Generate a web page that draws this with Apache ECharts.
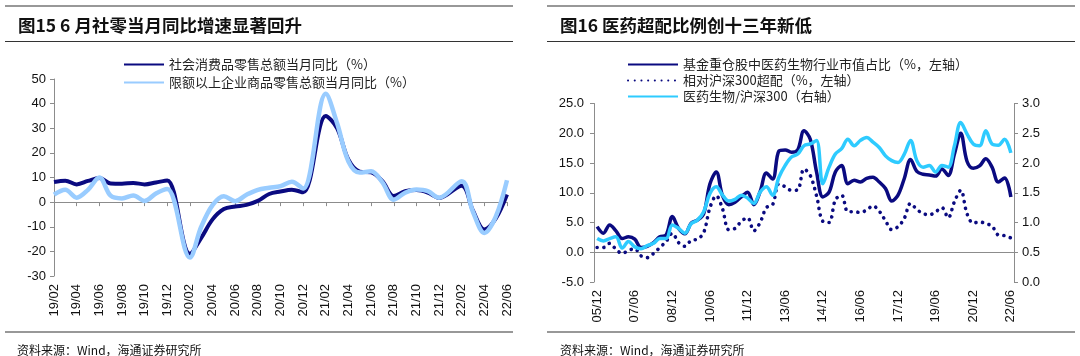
<!DOCTYPE html>
<html><head><meta charset="utf-8">
<script src="https://cdn.jsdelivr.net/npm/echarts@6/dist/echarts.min.js"></script>
<style>html,body{margin:0;padding:0;background:#fff}#c{width:1080px;height:356px}</style>
</head><body><div id="c"></div>
<script>
// ---------- Left chart: retail sales YoY (monthly, Jan data not published) ----------
const retailMonths = ['19/02','19/03','19/04','19/05','19/06','19/07','19/08','19/09','19/10','19/11','19/12',
  '20/01','20/02','20/03','20/04','20/05','20/06','20/07','20/08','20/09','20/10','20/11','20/12',
  '21/01','21/02','21/03','21/04','21/05','21/06','21/07','21/08','21/09','21/10','21/11','21/12',
  '22/01','22/02','22/03','22/04','22/05','22/06'];
const retailTotal = [8.2,8.7,7.2,8.6,9.8,7.6,7.5,7.8,7.2,8.0,8.8,
  null,-21.0,-14.5,-7.0,-2.8,-1.8,-1.1,0.5,3.3,4.3,5.0,4.0,
  null,35.0,30.0,17.2,12.4,12.1,8.5,2.5,4.4,4.9,3.9,1.7,
  null,6.7,-3.5,-11.1,-6.7,3.1];
const retailAboveQuota = [3.0,5.0,1.8,5.0,10.0,2.6,1.5,2.7,0.5,3.5,5.3,
  null,-22.5,-10.0,-1.2,2.4,0.4,3.0,5.0,5.8,6.5,8.3,5.5,
  null,44.0,32.0,16.5,12.0,12.5,8.0,1.0,3.8,5.1,4.5,1.8,
  null,8.5,-4.0,-12.5,-6.0,8.9];
const leftNames = ['社会消费品零售总额当月同比（%）','限额以上企业商品零售总额当月同比（%）'];

// ---------- Right chart: pharma overweight (quarterly) ----------
const quarters = ['05/12',
  '06/03','06/06','06/09','06/12','07/03','07/06','07/09','07/12','08/03','08/06','08/09','08/12',
  '09/03','09/06','09/09','09/12','10/03','10/06','10/09','10/12','11/03','11/06','11/09','11/12',
  '12/03','12/06','12/09','12/12','13/03','13/06','13/09','13/12','14/03','14/06','14/09','14/12',
  '15/03','15/06','15/09','15/12','16/03','16/06','16/09','16/12','17/03','17/06','17/09','17/12',
  '18/03','18/06','18/09','18/12','19/03','19/06','19/09','19/12','20/03','20/06','20/09','20/12',
  '21/03','21/06','21/09','21/12','22/03','22/06'];
const fundPharmaShare = [4.3,3.2,4.6,3.6,2.3,2.6,2.2,0.8,1.0,1.6,2.6,2.9,6.0,4.0,3.1,4.9,5.4,6.5,11.5,13.5,
  9.5,8.0,8.4,9.3,10.1,8.0,10.2,13.3,12.3,17.0,17.2,16.8,17.2,20.4,19.0,13.5,9.3,10.1,13.5,14.6,
  11.5,12.1,11.8,12.4,12.6,11.8,10.7,8.6,9.6,12.4,15.6,13.6,13.1,13.0,12.8,14.0,12.9,16.5,20.0,15.3,
  14.1,14.5,15.7,14.3,11.8,12.5,9.3];
const overweightVsHS300 = [0.8,0.8,1.5,0.5,-0.2,0.3,0.6,-0.6,-0.9,-0.2,0.8,1.8,3.2,1.6,1.0,2.0,2.2,3.3,7.5,9.5,
  7.3,3.8,4.0,5.2,5.8,3.6,5.0,7.5,8.0,11.5,11.0,10.4,10.5,14.0,12.9,9.5,5.2,5.0,8.8,9.6,
  6.8,6.8,6.7,7.1,7.8,6.9,5.3,3.8,4.3,5.7,8.2,7.2,6.5,6.3,6.8,7.5,5.8,8.5,10.4,6.5,
  4.9,5.1,4.8,4.4,2.9,2.8,2.4];
const pharmaToHS300 = [0.73,0.69,0.73,0.76,0.57,0.68,0.59,0.56,0.61,0.65,0.73,0.73,0.96,0.90,0.82,0.98,1.04,1.18,1.49,1.60,
  1.46,1.36,1.39,1.46,1.41,1.32,1.51,1.60,1.46,1.76,1.96,2.10,2.15,2.29,2.32,2.38,1.65,1.93,2.15,2.24,
  2.40,2.29,2.38,2.43,2.35,2.26,2.12,2.04,2.01,2.15,2.38,2.04,1.93,1.96,1.85,1.96,1.93,2.29,2.68,2.49,
  2.32,2.29,2.54,2.32,2.30,2.40,2.17];
const rightNames = ['基金重仓股中医药生物行业市值占比（%，左轴）','相对沪深300超配（%，左轴）','医药生物/沪深300（右轴）'];

const leftTitle = '图15 6 月社零当月同比增速显著回升';
const rightTitle = '图16 医药超配比例创十三年新低';
const sourceText = '资料来源：Wind，海通证券研究所';

const NAVY = '#0a0a80', LIGHT = '#99ccff', CYAN = '#2ecbff', AXIS = '#8c8c8c', TXT = '#111';
const NUMFONT = 'Liberation Sans, Arial, sans-serif';
const CJK = 'Noto Sans CJK SC';

const chart = echarts.init(document.getElementById('c'), null, {renderer: 'canvas'});

function hline(x1, x2, y, w) {
  return {type: 'line', shape: {x1: x1, y1: y, x2: x2, y2: y}, style: {stroke: '#333', lineWidth: w || 1.2}, silent: true};
}
function txt(x, y, s, size, weight) {
  return {type: 'text', x: x, y: y, style: {text: s, font: (weight || 'normal') + ' ' + size + 'px "' + CJK + '"', fill: TXT, textVerticalAlign: 'middle'}, silent: true};
}

const option = {
  animation: false,
  backgroundColor: '#fff',
  graphic: [
    hline(5, 513, 6), hline(5, 513, 41.5), hline(5, 513, 332),
    hline(547, 1075, 6), hline(547, 1075, 41.5), hline(547, 1075, 332),
    txt(18, 25, leftTitle, 17.5, 'bold'),
    txt(560, 25, rightTitle, 17.5, 'bold'),
    txt(17, 350, sourceText, 12),
    txt(560, 350, sourceText, 12)
  ],
  legend: [
    {
      data: leftNames, orient: 'vertical', left: 118, top: 53, itemWidth: 40, itemHeight: 14, itemGap: 5,
      itemStyle: {opacity: 0},
      textStyle: {fontFamily: CJK, fontSize: 13, color: '#222'}
    },
    {
      data: rightNames, orient: 'vertical', left: 622, top: 53, itemWidth: 50, itemHeight: 12, itemGap: 3,
      itemStyle: {opacity: 0},
      textStyle: {fontFamily: CJK, fontSize: 13, color: '#222'}
    }
  ],
  grid: [
    {left: 54, right: 573, top: 79, bottom: 80},
    {left: 594, right: 66, top: 103.5, bottom: 74}
  ],
  xAxis: [
    {type: 'category', gridIndex: 0, data: retailMonths, boundaryGap: false,
     axisLine: {onZero: true, lineStyle: {color: AXIS, width: 1}},
     axisTick: {interval: 1, length: 4, lineStyle: {color: AXIS}},
     axisLabel: {show: false}, splitLine: {show: false}},
    {type: 'category', gridIndex: 0, data: retailMonths, boundaryGap: false, position: 'bottom',
     axisLine: {show: false, onZero: false}, axisTick: {show: false},
     axisLabel: {interval: 1, rotate: 90, margin: 8, fontSize: 13, fontFamily: NUMFONT, color: TXT},
     splitLine: {show: false}},
    {type: 'category', gridIndex: 1, data: quarters, boundaryGap: true,
     axisLine: {onZero: true, onZeroAxisIndex: 1, lineStyle: {color: AXIS, width: 1}},
     axisTick: {interval: 5, alignWithLabel: true, length: 4, lineStyle: {color: AXIS}},
     axisLabel: {show: false, interval: 5}, splitLine: {show: false}},
    {type: 'category', gridIndex: 1, data: quarters, boundaryGap: true, position: 'bottom',
     axisLine: {show: false, onZero: false}, axisTick: {show: false},
     axisLabel: {interval: 5, rotate: 90, margin: 8, fontSize: 13, fontFamily: NUMFONT, color: TXT},
     splitLine: {show: false}}
  ],
  yAxis: [
    {type: 'value', gridIndex: 0, min: -30, max: 50, interval: 10,
     axisLine: {show: true, lineStyle: {color: AXIS}}, axisTick: {show: true, length: 4, lineStyle: {color: AXIS}},
     axisLabel: {margin: 8, fontSize: 13, fontFamily: NUMFONT, color: TXT}, splitLine: {show: false}},
    {type: 'value', gridIndex: 1, min: -5, max: 25, interval: 5, position: 'left',
     axisLine: {show: true, lineStyle: {color: AXIS}}, axisTick: {show: true, length: 4, lineStyle: {color: AXIS}},
     axisLabel: {margin: 10, fontSize: 13, fontFamily: NUMFONT, color: TXT, formatter: v => v.toFixed(1)}, splitLine: {show: false}},
    {type: 'value', gridIndex: 1, min: 0, max: 3, interval: 0.5, position: 'right',
     axisLine: {show: true, lineStyle: {color: AXIS}}, axisTick: {show: true, length: 4, lineStyle: {color: AXIS}},
     axisLabel: {margin: 8, fontSize: 13, fontFamily: NUMFONT, color: TXT, formatter: v => v.toFixed(1)}, splitLine: {show: false}}
  ],
  series: [
    {name: leftNames[0], type: 'line', xAxisIndex: 0, yAxisIndex: 0, data: retailTotal, connectNulls: true,
     symbol: 'none', smooth: 0.35, lineStyle: {color: NAVY, width: 4}, itemStyle: {color: NAVY}},
    {name: leftNames[1], type: 'line', xAxisIndex: 0, yAxisIndex: 0, data: retailAboveQuota, connectNulls: true,
     symbol: 'none', smooth: 0.35, lineStyle: {color: LIGHT, width: 4.5}, itemStyle: {color: LIGHT}},
    {name: rightNames[0], type: 'line', xAxisIndex: 2, yAxisIndex: 1, data: fundPharmaShare,
     symbol: 'none', smooth: 0.35, lineStyle: {color: NAVY, width: 3.5}, itemStyle: {color: NAVY}},
    {name: rightNames[1], type: 'line', xAxisIndex: 2, yAxisIndex: 1, data: overweightVsHS300,
     symbol: 'none', smooth: 0.35, lineStyle: {color: NAVY, width: 3.6, type: [0.1, 6.6], cap: 'round'}, itemStyle: {color: NAVY}},
    {name: rightNames[2], type: 'line', xAxisIndex: 2, yAxisIndex: 2, data: pharmaToHS300,
     symbol: 'none', smooth: 0.35, lineStyle: {color: CYAN, width: 3.5}, itemStyle: {color: CYAN}}
  ]
};
chart.setOption(option);
</script>
</body></html>
